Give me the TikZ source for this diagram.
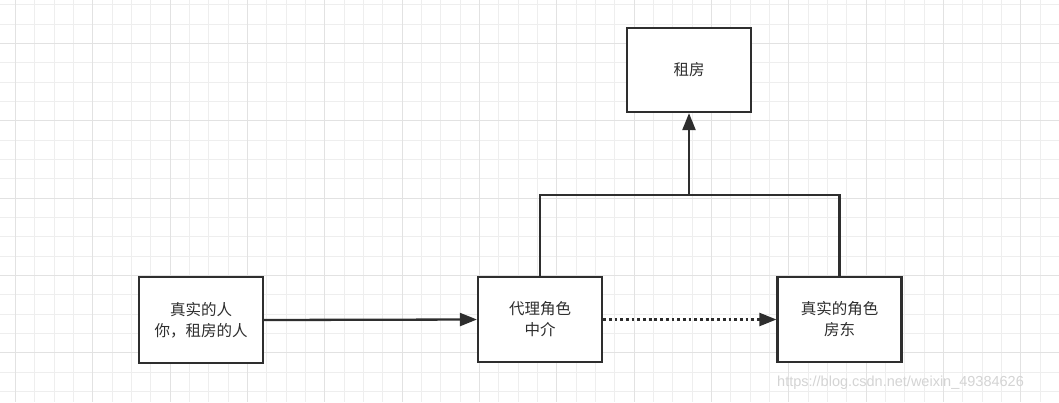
\documentclass[tikz,border=0pt]{standalone}
\usepackage{fontspec}
\newfontfamily\cjk{Noto Sans CJK SC}
\newfontfamily\wmfont{Liberation Sans}
\usetikzlibrary{arrows.meta}
\definecolor{ink}{HTML}{2E2E2E}
\definecolor{gridminor}{HTML}{EEEEEE}
\definecolor{gridmajor}{HTML}{E2E2E2}
\definecolor{wm}{HTML}{D4D4D4}
\tikzset{
  box/.style={draw=ink, line width=2.2pt, fill=white, minimum width=124pt, minimum height=85pt,
    inner sep=0pt, align=center, text=ink, font=\cjk\fontsize{15.5}{21}\selectfont},
  conn/.style={draw=ink, line width=2.3pt},
  arr/.style={conn, -{Triangle[length=17pt,width=13pt]}},
  dottedconn/.style={conn, -{Triangle[length=17pt,width=13pt]}, dash pattern=on 2.8pt off 2.9pt},
}
\begin{document}
\begin{tikzpicture}[x=1pt,y=-1pt]
\useasboundingbox (0,0) rectangle (1059,402);
\fill[white] (0,0) rectangle (1059,402);
% grid
\foreach \i in {-1,...,54} {
  \draw[gridminor, line width=0.9pt] (15.333+19.333*\i,0) -- ++(0,402);
}
\foreach \i in {-3,...,19} {
  \draw[gridminor, line width=0.9pt] (0,43.333+19.333*\i) -- ++(1059,0);
}
\foreach \i in {0,...,13} {
  \draw[gridmajor, line width=1pt] (15.333+77.333*\i,0) -- ++(0,402);
}
\foreach \i in {-1,...,4} {
  \draw[gridmajor, line width=1pt] (0,43.333+77.333*\i) -- ++(1059,0);
}
% nodes
\node[box, minimum height=86pt] (A) at (201,320) {真实的人\\你，租房的人};
\node[box] (B) at (540,319.5) {代理角色\\中介};
\node[box] (C) at (839.5,319.5) {真实的角色\\房东};
\node[box, minimum height=84pt] (D) at (689,70) {租房};
\coordinate (J) at (689,195);
% connectors
\draw[arr] (A.east) -- (B.west);
\draw[dottedconn] (B.east) -- (C.west);
\draw[conn] (B.north) |- (J) -| (C.north);
\draw[arr] (J) -- (D.south);
% watermark
\node[anchor=west, inner sep=0pt, text=wm, font=\wmfont\fontsize{14.5}{16}\selectfont] (W) at (777,383) {https://blog.csdn.net/weixin\_49384626};
\end{tikzpicture}
\end{document}
